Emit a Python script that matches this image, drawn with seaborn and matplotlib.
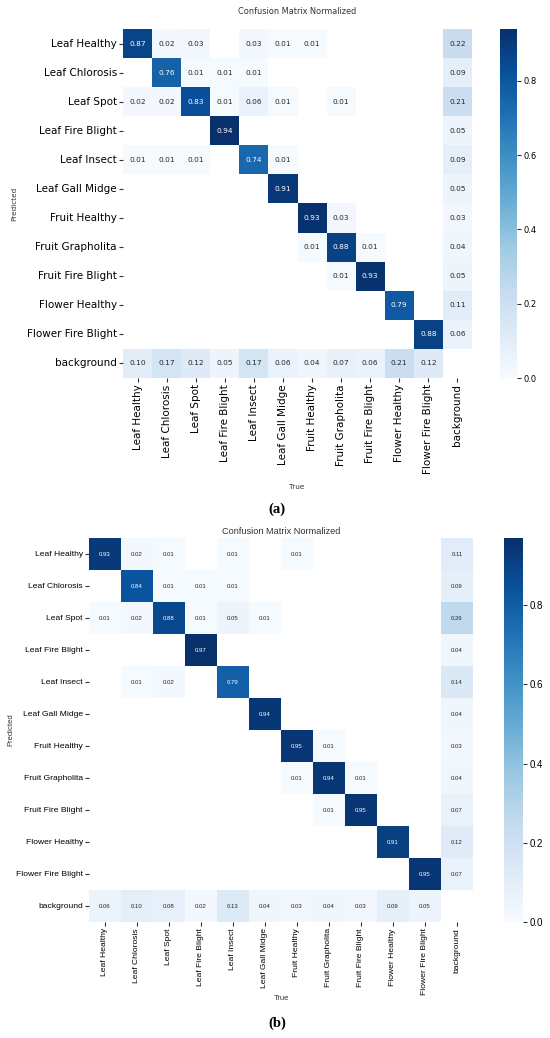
import numpy as np
import pandas as pd
import matplotlib
matplotlib.use("Agg")
import matplotlib.pyplot as plt
import seaborn as sns

N = np.nan

labels = ["Leaf Healthy", "Leaf Chlorosis", "Leaf Spot", "Leaf Fire Blight",
          "Leaf Insect", "Leaf Gall Midge", "Fruit Healthy", "Fruit Grapholita",
          "Fruit Fire Blight", "Flower Healthy", "Flower Fire Blight", "background"]

# rows = Predicted, columns = True
matrix_a = [
    [0.87, 0.02, 0.03, N, 0.03, 0.01, 0.01, N, N, N, N, 0.22],
    [N, 0.76, 0.01, 0.01, 0.01, N, N, N, N, N, N, 0.09],
    [0.02, 0.02, 0.83, 0.01, 0.06, 0.01, N, 0.01, N, N, N, 0.21],
    [N, N, N, 0.94, N, N, N, N, N, N, N, 0.05],
    [0.01, 0.01, 0.01, N, 0.74, 0.01, N, N, N, N, N, 0.09],
    [N, N, N, N, N, 0.91, N, N, N, N, N, 0.05],
    [N, N, N, N, N, N, 0.93, 0.03, N, N, N, 0.03],
    [N, N, N, N, N, N, 0.01, 0.88, 0.01, N, N, 0.04],
    [N, N, N, N, N, N, N, 0.01, 0.93, N, N, 0.05],
    [N, N, N, N, N, N, N, N, N, 0.79, N, 0.11],
    [N, N, N, N, N, N, N, N, N, N, 0.88, 0.06],
    [0.10, 0.17, 0.12, 0.05, 0.17, 0.06, 0.04, 0.07, 0.06, 0.21, 0.12, N],
]

matrix_b = [
    [0.93, 0.02, 0.01, N, 0.01, N, 0.01, N, N, N, N, 0.11],
    [N, 0.84, 0.01, 0.01, 0.01, N, N, N, N, N, N, 0.09],
    [0.01, 0.02, 0.88, 0.01, 0.05, 0.01, N, N, N, N, N, 0.26],
    [N, N, N, 0.97, N, N, N, N, N, N, N, 0.04],
    [N, 0.01, 0.02, N, 0.79, N, N, N, N, N, N, 0.14],
    [N, N, N, N, N, 0.94, N, N, N, N, N, 0.04],
    [N, N, N, N, N, N, 0.95, 0.01, N, N, N, 0.03],
    [N, N, N, N, N, N, 0.01, 0.94, 0.01, N, N, 0.04],
    [N, N, N, N, N, N, N, 0.01, 0.95, N, N, 0.07],
    [N, N, N, N, N, N, N, N, N, 0.91, N, 0.12],
    [N, N, N, N, N, N, N, N, N, N, 0.95, 0.07],
    [0.06, 0.10, 0.08, 0.02, 0.13, 0.04, 0.03, 0.04, 0.03, 0.09, 0.05, N],
]

title_text = "Confusion Matrix Normalized"

plt.rcParams["font.family"] = ["DejaVu Sans"]

W, H = 550, 1038
fig = plt.figure(figsize=(W / 100, H / 100), dpi=100)
fig.patch.set_facecolor("white")


def box(x0, y0, x1, y1):
    return [x0 / W, 1 - y1 / H, (x1 - x0) / W, (y1 - y0) / H]


def draw(matrix, hm_box, cb_box, family, tick_size, annot_size, cbar_size):
    ax = fig.add_axes(box(*hm_box))
    cax = fig.add_axes(box(*cb_box))
    df = pd.DataFrame(matrix, index=labels, columns=labels)
    sns.heatmap(df, ax=ax, cbar_ax=cax, cmap="Blues", annot=True, fmt=".2f",
                annot_kws={"size": annot_size, "family": family},
                vmin=0.0, square=False, xticklabels=labels, yticklabels=labels)
    ax.set_facecolor((1, 1, 1))
    ax.set_xlabel("")
    ax.set_ylabel("")
    ax.tick_params(axis="both", labelsize=tick_size, length=3, width=0.8,
                   color="#333333", pad=1.5)
    for t in ax.get_xticklabels():
        t.set_rotation(90)
        t.set_fontfamily(family)
    for t in ax.get_yticklabels():
        t.set_rotation(0)
        t.set_fontfamily(family)
    cax.tick_params(labelsize=cbar_size, length=3, width=0.8, color="#333333", pad=1.5)
    for t in cax.get_yticklabels():
        t.set_fontfamily(family)
    return ax


draw(matrix_a, (123, 29, 472, 378), (500, 29, 517, 378), "DejaVu Sans", 7.5, 5.3, 6.0)
draw(matrix_b, (89, 538, 473, 922), (504, 538, 523, 922), "Liberation Sans", 6.1, 4.3, 7.0)

# texts for (a)
fig.text(297.5 / W, 1 - 11 / H, title_text, ha="center", va="center", fontsize=5.9,
         family="DejaVu Sans", color="#333333")
fig.text(14 / W, 1 - 204 / H, "Predicted", ha="center", va="center", rotation=90,
         fontsize=5.2, family="DejaVu Sans", color="#333333")
fig.text(297 / W, 1 - 487 / H, "True", ha="center", va="center", fontsize=5.2,
         family="DejaVu Sans", color="#333333")
fig.text(277 / W, 1 - 509 / H, "(a)", ha="center", va="center", fontsize=10.5,
         family="Liberation Serif", fontweight="bold", color="black")

# texts for (b)
fig.text(281 / W, 1 - 531 / H, title_text, ha="center", va="center", fontsize=6.6,
         family="Liberation Sans", color="#333333")
fig.text(10.5 / W, 1 - 730 / H, "Predicted", ha="center", va="center", rotation=90,
         fontsize=5.5, family="Liberation Sans", color="#333333")
fig.text(281 / W, 1 - 999 / H, "True", ha="center", va="center", fontsize=5.5,
         family="Liberation Sans", color="#333333")
fig.text(277 / W, 1 - 1023 / H, "(b)", ha="center", va="center", fontsize=10.5,
         family="Liberation Serif", fontweight="bold", color="black")

fig.savefig("out.png", dpi=100, facecolor="white")
